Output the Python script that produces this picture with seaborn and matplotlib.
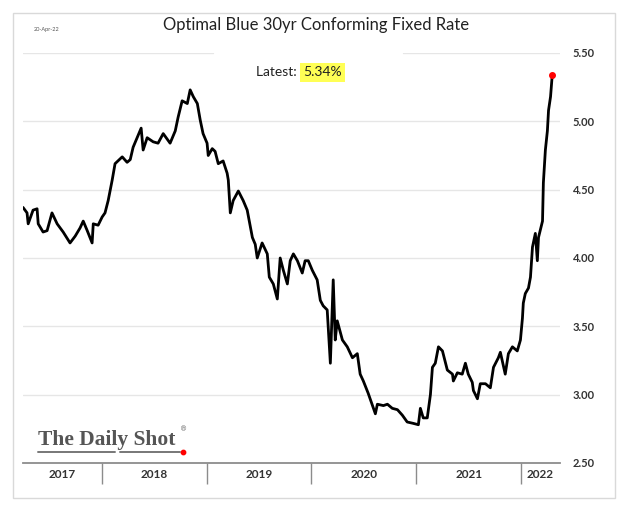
import pandas as pd
import seaborn as sns
import matplotlib.pyplot as plt
import matplotlib.dates as mdates
from matplotlib.patches import Rectangle

# Optimal Blue 30yr conforming fixed rate
dates = [
    "2017-03-31", "2017-04-14", "2017-04-18", "2017-05-05", "2017-05-19", "2017-05-23",
    "2017-06-09", "2017-06-23", "2017-07-10", "2017-07-28", "2017-08-18", "2017-09-11",
    "2017-09-29", "2017-10-16", "2017-10-27", "2017-11-10", "2017-11-27", "2017-12-01",
    "2017-12-18", "2018-01-01", "2018-01-11", "2018-01-22", "2018-02-05", "2018-02-15",
    "2018-03-12", "2018-03-29", "2018-04-09", "2018-04-19", "2018-05-03", "2018-05-17",
    "2018-05-24", "2018-06-07", "2018-06-28", "2018-07-15", "2018-08-02", "2018-08-26",
    "2018-09-13", "2018-09-23", "2018-10-07", "2018-10-25", "2018-11-04", "2018-11-15",
    "2018-11-29", "2018-12-09", "2018-12-19", "2019-01-02", "2019-01-06", "2019-01-20",
    "2019-01-30", "2019-02-10", "2019-02-27", "2019-03-13", "2019-03-17", "2019-03-24",
    "2019-04-03", "2019-04-21", "2019-05-08", "2019-05-22", "2019-06-09", "2019-06-19",
    "2019-06-26", "2019-07-13", "2019-07-31", "2019-08-07", "2019-08-21", "2019-09-04",
    "2019-09-14", "2019-09-25", "2019-10-09", "2019-10-19", "2019-10-30", "2019-11-13",
    "2019-11-30", "2019-12-10", "2019-12-21", "2020-01-04", "2020-01-21", "2020-02-01",
    "2020-02-11", "2020-02-25", "2020-03-07", "2020-03-17", "2020-03-24", "2020-03-31",
    "2020-04-18", "2020-05-05", "2020-05-23", "2020-06-09", "2020-06-19", "2020-06-30",
    "2020-07-17", "2020-08-11", "2020-08-18", "2020-09-08", "2020-09-22", "2020-10-09",
    "2020-10-27", "2020-11-13", "2020-11-30", "2020-12-21", "2021-01-08", "2021-01-15",
    "2021-01-25", "2021-02-08", "2021-02-19", "2021-02-26", "2021-03-08", "2021-03-19",
    "2021-04-02", "2021-04-19", "2021-05-07", "2021-05-10", "2021-05-24", "2021-06-10",
    "2021-06-21", "2021-07-01", "2021-07-15", "2021-07-19", "2021-08-02", "2021-08-12",
    "2021-08-30", "2021-09-16", "2021-09-27", "2021-10-14", "2021-10-21", "2021-11-07",
    "2021-11-18", "2021-12-02", "2021-12-19", "2021-12-30", "2022-01-06", "2022-01-09",
    "2022-01-16", "2022-01-27", "2022-02-03", "2022-02-10", "2022-02-20", "2022-02-27",
    "2022-03-03", "2022-03-17", "2022-03-20", "2022-03-27", "2022-04-03", "2022-04-07",
    "2022-04-14", "2022-04-20",
]
rates = [
    4.37, 4.33, 4.25, 4.35, 4.36, 4.25,
    4.19, 4.20, 4.33, 4.25, 4.19, 4.11,
    4.16, 4.22, 4.27, 4.20, 4.11, 4.25,
    4.24, 4.30, 4.33, 4.42, 4.57, 4.69,
    4.74, 4.70, 4.72, 4.81, 4.88, 4.95,
    4.79, 4.88, 4.85, 4.84, 4.91, 4.84,
    4.93, 5.03, 5.15, 5.13, 5.23, 5.18,
    5.13, 5.01, 4.91, 4.84, 4.75, 4.80,
    4.78, 4.69, 4.71, 4.62, 4.57, 4.33,
    4.42, 4.49, 4.42, 4.35, 4.15, 4.10,
    4.00, 4.11, 4.03, 3.86, 3.81, 3.70,
    4.00, 3.91, 3.81, 3.98, 4.03, 3.98,
    3.89, 3.98, 3.98, 3.91, 3.84, 3.69,
    3.65, 3.62, 3.23, 3.84, 3.40, 3.54,
    3.40, 3.35, 3.27, 3.30, 3.15, 3.10,
    3.01, 2.86, 2.93, 2.92, 2.93, 2.90,
    2.89, 2.85, 2.80, 2.79, 2.78, 2.90,
    2.83, 2.83, 3.00, 3.20, 3.23, 3.35,
    3.32, 3.18, 3.15, 3.10, 3.16, 3.15,
    3.23, 3.15, 3.09, 3.03, 2.97, 3.08,
    3.08, 3.05, 3.20, 3.27, 3.31, 3.15,
    3.30, 3.35, 3.32, 3.40, 3.56, 3.67,
    3.74, 3.78, 3.86, 4.08, 4.18, 3.98,
    4.15, 4.27, 4.55, 4.79, 4.93, 5.08,
    5.18, 5.34,
]
year_labels = ["2017", "2018", "2019", "2020", "2021", "2022"]
y_ticks = [2.5, 3.0, 3.5, 4.0, 4.5, 5.0, 5.5]
latest = 5.34

df = pd.DataFrame({"date": pd.to_datetime(dates), "rate": rates})

sns.set_style("white")
plt.rcParams["font.family"] = ["Lato", "DejaVu Sans"]

fig = plt.figure(figsize=(6.36, 5.07), dpi=100)
ax = fig.add_axes([0.0362, 0.0868, 0.8443, 0.8087])

# outer frame
fig.patches.append(Rectangle((0.0204, 0.0178), 0.9465, 0.9566, transform=fig.transFigure,
                             fill=False, edgecolor="#d9d9d9", lw=1.0))

# gridlines (top one is interrupted by the header area)
for v in y_ticks[1:-1]:
    ax.axhline(v, color="#e6e6e6", lw=1.0, zorder=0)
ax.axhline(y_ticks[-1], xmin=0, xmax=0.354, color="#e6e6e6", lw=1.0, zorder=0)
ax.axhline(y_ticks[-1], xmin=0.707, xmax=1, color="#e6e6e6", lw=1.0, zorder=0)

sns.lineplot(data=df, x="date", y="rate", color="black", lw=2.0, ax=ax, zorder=3)
ax.scatter(df["date"].iloc[-1], df["rate"].iloc[-1], color="red", s=16, zorder=4)

ax.set_xlim(pd.Timestamp("2017-03-31"), pd.Timestamp("2022-05-17"))
ax.set_ylim(2.5, 5.5)
ax.set_xlabel("")
ax.set_ylabel("")

# y axis on the right
ax.yaxis.tick_right()
ax.set_yticks(y_ticks)
ax.set_yticklabels([f"{v:.2f}" for v in y_ticks])
ax.tick_params(axis="y", length=0, pad=9, labelsize=8, labelcolor="#333333")
for lab in ax.get_yticklabels():
    lab.set_fontweight("bold")

# x axis: year separators as long ticks, labels centered in each year
for s in ["top", "left", "right"]:
    ax.spines[s].set_visible(False)
ax.spines["bottom"].set_color("#8c8c8c")
ax.spines["bottom"].set_linewidth(1.3)

x0, x1 = ax.get_xlim()
bounds = [mdates.date2num(pd.Timestamp(f"{y}-01-01")) for y in range(2018, 2023)]
ax.set_xticks(bounds)
ax.set_xticklabels([])
ax.tick_params(axis="x", which="major", bottom=True, direction="out", length=15,
               width=1, color="#8c8c8c")
edges = [x0] + bounds + [x1]
mids = [(a + b) / 2 for a, b in zip(edges[:-1], edges[1:])]
ax.set_xticks(mids, minor=True)
ax.set_xticklabels(year_labels, minor=True)
ax.tick_params(axis="x", which="minor", bottom=True, length=0, pad=4, labelsize=8.5,
               labelcolor="#333333")
for lab in ax.get_xticklabels(minor=True):
    lab.set_fontweight("bold")

# header
fig.text(0.497, 0.951, "Optimal Blue 30yr Conforming Fixed Rate", ha="center",
         va="center", fontsize=12, color="#222222")
fig.text(0.053, 0.941, "20-Apr-22", ha="left", va="center", fontsize=4,
         color="#555555")

# latest value
ax.text(0.516, 0.953, "Latest: ", transform=ax.transAxes, ha="right", va="center",
        fontsize=10, color="#222222")
ax.text(0.522, 0.953, f"{latest:.2f}%", transform=ax.transAxes, ha="left",
        va="center", fontsize=10, color="#222222",
        bbox=dict(boxstyle="square,pad=0.25", facecolor="#ffff55", edgecolor="none"))

# logo
ax.text(0.028, 0.045, "The Daily Shot", transform=ax.transAxes, ha="left",
        va="baseline", fontsize=15.5, fontweight="bold", color="#555555",
        family="Liberation Serif")
ax.text(0.292, 0.078, "\u00ae", transform=ax.transAxes, fontsize=5, color="#555555",
        family="DejaVu Serif")
ax.plot([0.028, 0.172], [0.027, 0.027], transform=ax.transAxes, color="#777777", lw=1.4)
ax.plot([0.18, 0.292], [0.027, 0.027], transform=ax.transAxes, color="#777777", lw=1.4)
ax.scatter([0.298], [0.027], transform=ax.transAxes, color="red", s=10, zorder=5)

fig.savefig("out.png", dpi=100)
